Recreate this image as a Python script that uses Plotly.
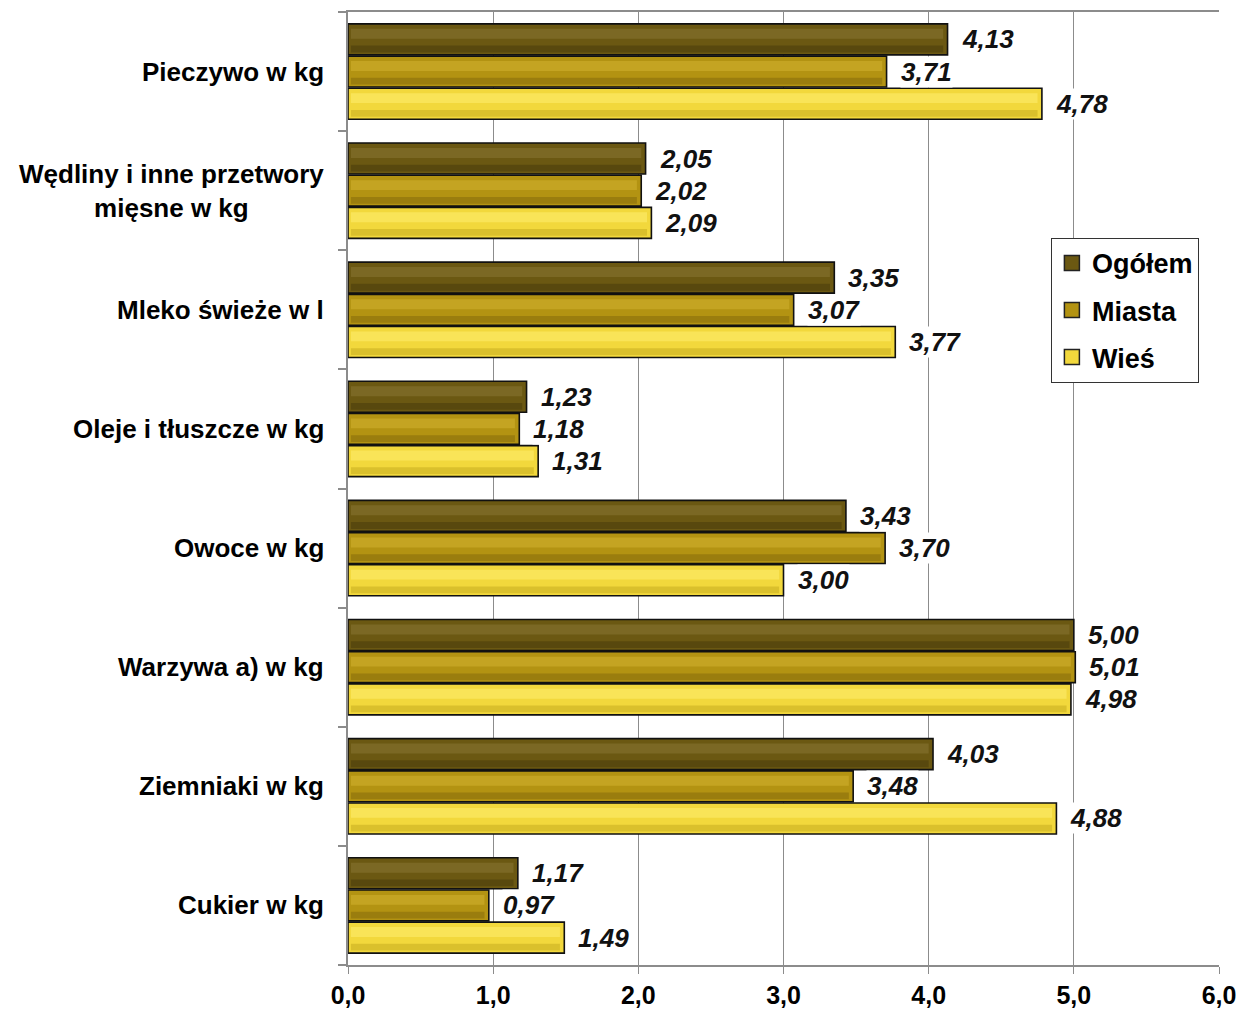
import plotly.graph_objects as go

categories = ["Pieczywo w kg", "Wędliny i inne przetwory<br>mięsne w kg", "Mleko świeże w l",
              "Oleje i tłuszcze w kg", "Owoce w kg", "Warzywa a) w kg", "Ziemniaki w kg", "Cukier w kg"]
series_names = ["Ogółem", "Miasta", "Wieś"]
ogolem = [4.13, 2.05, 3.35, 1.23, 3.43, 5.00, 4.03, 1.17]
miasta = [3.71, 2.02, 3.07, 1.18, 3.70, 5.01, 3.48, 0.97]
wies = [4.78, 2.09, 3.77, 1.31, 3.00, 4.98, 4.88, 1.49]
x_ticks = [0, 1, 2, 3, 4, 5, 6]

series = [ogolem, miasta, wies]
colors = ["#6B5812", "#B39312", "#F2D83C"]
highlights = ["#7B6824", "#C4A422", "#F9E458"]
shadows = ["#58480E", "#9A7D0E", "#DAC02C"]
offsets = [-0.40, -0.13, 0.14]
width = 0.26

font = "Liberation Sans, Arial, sans-serif"
fig = go.Figure()
n = len(categories)
ypos = list(range(n))

for name, vals, c, hl, sh, off in zip(series_names, series, colors, highlights, shadows, offsets):
    fig.add_trace(go.Bar(
        name=name, orientation="h", x=vals, y=ypos, offset=off, width=width,
        marker=dict(color=c, line=dict(color="#111111", width=1.6)),
        showlegend=False, hoverinfo="skip"))
    fig.add_trace(go.Bar(
        orientation="h", x=[v - 0.05 for v in vals], base=0.02, y=ypos,
        offset=off + width * 0.70, width=width * 0.22,
        marker=dict(color=sh, line=dict(width=0)), showlegend=False, hoverinfo="skip"))
    fig.add_trace(go.Bar(
        orientation="h", x=[v - 0.05 for v in vals], base=0.02, y=ypos,
        offset=off + width * 0.16, width=width * 0.32,
        marker=dict(color=hl, line=dict(width=0)), showlegend=False, hoverinfo="skip"))

# legend entries (square swatches)
for name, c in zip(series_names, colors):
    fig.add_trace(go.Scatter(
        name=name, x=[None], y=[None], mode="markers", legendgroup=name,
        marker=dict(symbol="square", size=15, color=c, line=dict(color="#222222", width=1.5)),
        hoverinfo="skip"))

annotations = []
for vals, off in zip(series, offsets):
    for i, v in enumerate(vals):
        annotations.append(dict(
            x=v, y=i + off + width / 2, xref="x", yref="y", text=f"{v:.2f}".replace(".", ","),
            showarrow=False, xanchor="left", yanchor="middle", xshift=13, bgcolor="white",
            borderpad=0,
            font=dict(family=font, size=26, color="#111111", weight="bold", style="italic")))
for i, cat in enumerate(categories):
    annotations.append(dict(
        x=0, y=i, xref="paper", yref="y", text=cat, showarrow=False, xanchor="right",
        yanchor="middle", xshift=-22, align="center",
        font=dict(family=font, size=26, color="#000000", weight="bold")))

fig.update_layout(
    width=1236, height=1004,
    margin=dict(l=340, r=25, t=2, b=47),
    paper_bgcolor="white", plot_bgcolor="white",
    barmode="overlay", separators=", ",
    showlegend=True,
    legend=dict(x=0.807, y=0.763, xanchor="left", yanchor="top",
                bgcolor="white", bordercolor="#333333", borderwidth=1,
                font=dict(family=font, size=27, color="#000000", weight="bold"),
                traceorder="grouped", tracegroupgap=9, itemwidth=30,
                itemsizing="trace"),
    annotations=annotations,
    xaxis=dict(range=[0, 6], tickvals=x_ticks, tickformat=".1f", showgrid=True,
               gridcolor="#8C8C8C", gridwidth=1.3, showline=True, linecolor="#8C8C8C",
               linewidth=1.5, ticks="outside", ticklen=7, tickcolor="#8C8C8C",
               tickfont=dict(family=font, size=25, color="#000000", weight="bold"),
               zeroline=False, mirror=True),
    yaxis=dict(range=[n - 0.5, -0.5], tickvals=ypos, ticktext=["" for _ in ypos],
               showgrid=False, showline=True, linecolor="#8C8C8C", linewidth=1.5,
               ticks="", zeroline=False, mirror=False,
               minor=dict(tickvals=[i - 0.5 for i in range(n + 1)], ticks="outside",
                          ticklen=8, tickcolor="#8C8C8C", tickwidth=1.5, showgrid=False)),
)
fig.write_html("out.html")
